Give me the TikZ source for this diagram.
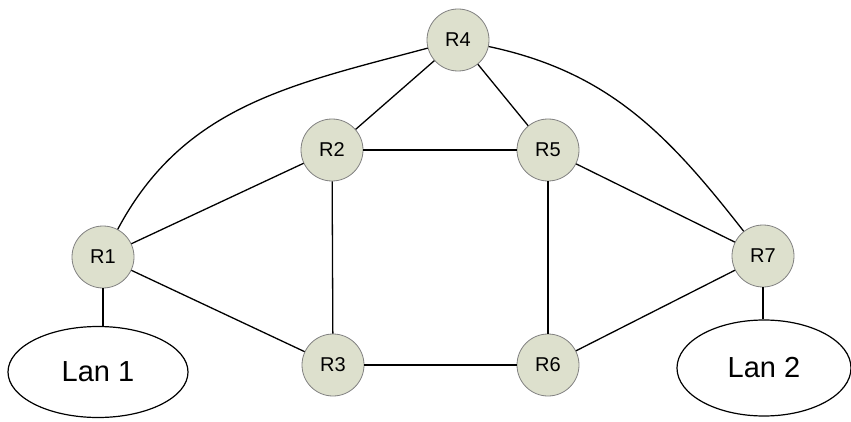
\documentclass[tikz,border=0pt]{standalone}
\usepackage{fontspec}
\setmainfont{Liberation Sans}
\usetikzlibrary{shapes.geometric}
\definecolor{routerfill}{RGB}{221,224,205}
\definecolor{routerline}{RGB}{128,128,128}
\begin{document}
\begin{tikzpicture}[x=1pt,y=1pt,
  router/.style={circle,draw=routerline,line width=0.8pt,fill=routerfill,
    minimum size=62pt,inner sep=0pt,font=\fontsize{20}{22}\selectfont},
  lan/.style={ellipse,draw=black,line width=1.2pt,fill=white,inner sep=0pt,
    font=\fontsize{29}{32}\selectfont},
  link/.style={line width=1.3pt,draw=black}]
\useasboundingbox (0,0) rectangle (851,421);
\node[router] (R1) at (103,164) {R1};
\node[router] (R2) at (332,271) {R2};
\node[router] (R3) at (333,56) {R3};
\node[router] (R4) at (458,381) {R4};
\node[router] (R5) at (548,271) {R5};
\node[router] (R6) at (548,56) {R6};
\node[router] (R7) at (763,165) {R7};
\node[lan,minimum width=180pt,minimum height=91pt] (L1) at (98,49) {Lan 1};
\node[lan,minimum width=174pt,minimum height=96pt] (L2) at (764,53) {Lan 2};
\draw[link] (R1) to[out=62,in=195] (R4);
\draw[link] (R4) to[out=-12,in=128] (R7);
\draw[link] (R4) -- (R2);
\draw[link] (R4) -- (R5);
\draw[link] (R2) -- (R5);
\draw[link] (R1) -- (R2);
\draw[link] (R2) -- (R3);
\draw[link] (R1) -- (R3);
\draw[link] (R3) -- (R6);
\draw[link] (R5) -- (R6);
\draw[link] (R5) -- (R7);
\draw[link] (R6) -- (R7);
\draw[link] (R1.south) -- (R1.south |- L1.north);
\draw[link] (R7.south) -- (R7.south |- L2.north);
\end{tikzpicture}
\end{document}
